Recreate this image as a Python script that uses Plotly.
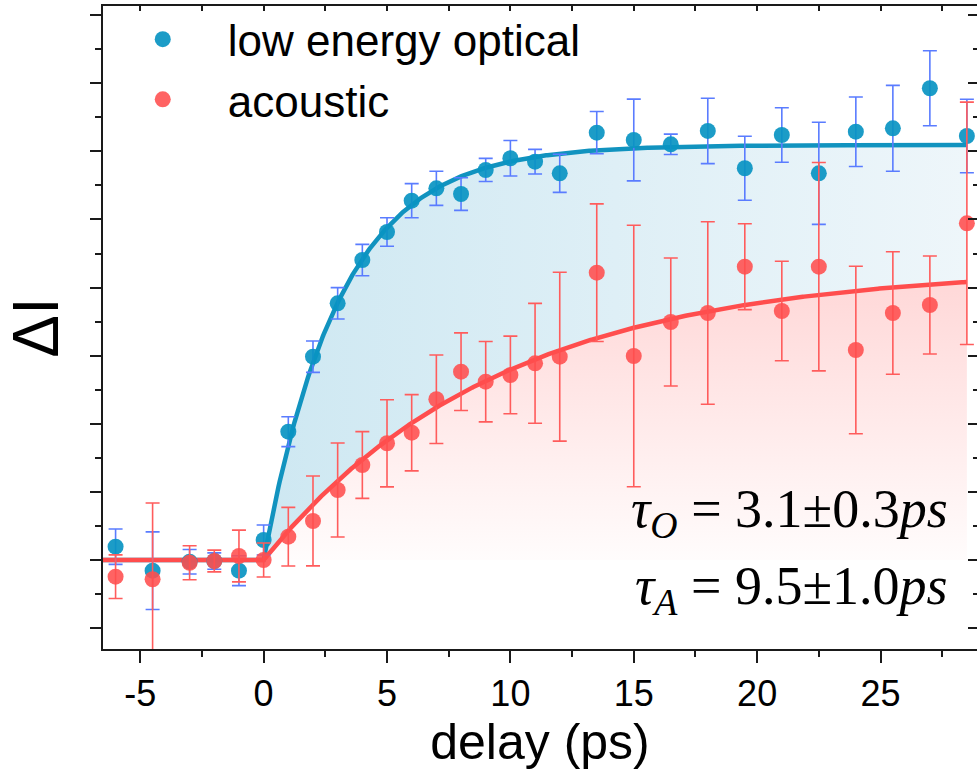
import numpy as np
import plotly.graph_objects as go

# Delay times (ps)
delay = [-6, -4.5, -3, -2, -1, 0, 1, 2, 3, 4, 5, 6, 7, 8, 9, 10, 11, 12,
         13.5, 15, 16.5, 18, 19.5, 21, 22.5, 24, 25.5, 27, 28.5]

# Low energy optical mode intensity change (arb. units) and errors
optical = [0.195, -0.157, -0.025, -0.015, -0.157, 0.294, 1.884, 2.985, 3.769,
           4.405, 4.816, 5.276, 5.458, 5.374, 5.727, 5.899, 5.849, 5.678,
           6.275, 6.167, 6.104, 6.300, 5.752, 6.241, 5.678, 6.289, 6.339,
           6.927, 6.226]
optical_err = [0.26, 0.57, 0.18, 0.12, 0.22, 0.22, 0.22, 0.23, 0.23, 0.23,
               0.21, 0.25, 0.25, 0.24, 0.17, 0.26, 0.18, 0.28, 0.31, 0.60,
               0.15, 0.48, 0.47, 0.40, 0.75, 0.51, 0.63, 0.55, 0.54]

# Acoustic mode intensity change (arb. units) and errors
acoustic = [-0.245, -0.283, -0.040, -0.015, 0.059, 0.0, 0.342, 0.573, 1.028,
            1.395, 1.714, 1.869, 2.360, 2.765, 2.618, 2.717, 2.888, 2.985,
            4.219, 2.996, 3.495, 3.627, 4.307, 3.656, 4.307, 3.084, 3.627,
            3.744, 4.944]
acoustic_err = [0.32, 1.12, 0.25, 0.16, 0.38, 0.25, 0.43, 0.66, 0.69, 0.49,
                0.64, 0.56, 0.65, 0.57, 0.59, 0.57, 0.88, 1.24, 1.01, 1.92,
                0.94, 1.34, 0.63, 0.73, 1.53, 1.23, 0.90, 0.72, 1.78]

# Single-exponential rise fits: A * (1 - exp(-t / tau)) for t > 0
TAU_O, AMP_O = 3.1, 6.094
TAU_A, AMP_A = 9.5, 4.296

x_ticks = [-5, 0, 5, 10, 15, 20, 25]
x_tick_labels = ["-5", "0", "5", "10", "15", "20", "25"]

t_fit = np.linspace(-6.9, 28.5, 709)
fit_o = np.where(t_fit > 0, AMP_O * (1 - np.exp(-np.clip(t_fit, 0, None) / TAU_O)), 0.0)
fit_a = np.where(t_fit > 0, AMP_A * (1 - np.exp(-np.clip(t_fit, 0, None) / TAU_A)), 0.0)

BLUE = "#0994c2"
BLUE_ERR = "#5a7cff"
RED = "#ff4d4d"
RED_ERR = "#ff5c5c"

fig = go.Figure()

# Shaded areas under the fits
fig.add_trace(go.Scatter(
    x=t_fit, y=fit_a, mode="lines", line=dict(width=0), fill="tozeroy",
    fillgradient=dict(type="vertical", start=0, stop=AMP_A,
                      colorscale=[[0, "rgba(255,252,252,1)"], [1, "rgba(255,214,214,1)"]]),
    showlegend=False, hoverinfo="skip"))
fig.add_trace(go.Scatter(
    x=t_fit, y=fit_o, mode="lines", line=dict(width=0), fill="tonexty",
    fillgradient=dict(type="horizontal", start=0, stop=28.5,
                      colorscale=[[0, "rgba(206,232,242,1)"], [1, "rgba(238,246,250,1)"]]),
    showlegend=False, hoverinfo="skip"))

# Fit curves
fig.add_trace(go.Scatter(x=t_fit, y=fit_o, mode="lines",
                         line=dict(color="#1193bf", width=4.5),
                         showlegend=False, hoverinfo="skip"))
fig.add_trace(go.Scatter(x=t_fit, y=fit_a, mode="lines",
                         line=dict(color=RED, width=4.5),
                         showlegend=False, hoverinfo="skip"))

# Measured points
fig.add_trace(go.Scatter(
    x=delay, y=optical, mode="markers", name="low energy optical",
    marker=dict(color=BLUE, size=16, opacity=0.92),
    error_y=dict(type="data", array=optical_err, color=BLUE_ERR,
                 thickness=1.6, width=7)))
fig.add_trace(go.Scatter(
    x=delay, y=acoustic, mode="markers", name="acoustic",
    marker=dict(color=RED, size=16, opacity=0.88),
    error_y=dict(type="data", array=acoustic_err, color=RED_ERR,
                 thickness=1.6, width=7)))

# Invisible trace to anchor the mirrored top/right axes
fig.add_trace(go.Scatter(x=[0], y=[0], xaxis="x2", yaxis="y2", mode="markers",
                         marker=dict(opacity=0), showlegend=False, hoverinfo="skip"))

X_RANGE = [-6.51, 28.91]
Y_RANGE = [-1.307, 8.135]
AXIS_COLOR = "#1a1a1a"

fig.update_layout(
    width=977, height=780,
    margin=dict(l=103, r=0, t=6, b=131),
    paper_bgcolor="white", plot_bgcolor="white",
    font=dict(family="Liberation Sans, Arial, sans-serif", color="black"),
    xaxis=dict(
        range=X_RANGE, tickvals=x_ticks, ticktext=x_tick_labels,
        ticks="outside", ticklen=12,
        tickwidth=1.5, tickcolor=AXIS_COLOR,
        minor=dict(dtick=2.5, tick0=0, ticks="outside", ticklen=6,
                   tickwidth=1.5, tickcolor=AXIS_COLOR),
        showline=True, linecolor=AXIS_COLOR, linewidth=1.5,
        showgrid=False, zeroline=False,
        tickfont=dict(size=36),
        title=dict(text="delay (ps)", font=dict(size=50), standoff=6),
    ),
    yaxis=dict(
        range=Y_RANGE, dtick=1, tick0=0, ticks="outside", ticklen=11,
        tickwidth=1.5, tickcolor=AXIS_COLOR, showticklabels=False,
        minor=dict(dtick=0.5, tick0=0, ticks="outside", ticklen=6,
                   tickwidth=1.5, tickcolor=AXIS_COLOR),
        showline=True, linecolor=AXIS_COLOR, linewidth=1.5,
        showgrid=False, zeroline=False,
        title=dict(text="ΔI", font=dict(size=64), standoff=32),
    ),
    xaxis2=dict(
        overlaying="x", side="top", anchor="y", range=X_RANGE,
        dtick=2.5, tick0=0, ticks="inside", ticklen=5, tickwidth=1.5,
        tickcolor=AXIS_COLOR, showticklabels=False,
        showline=True, linecolor=AXIS_COLOR, linewidth=1.5,
        showgrid=False, zeroline=False,
    ),
    yaxis2=dict(
        overlaying="y", side="right", anchor="x", range=Y_RANGE,
        dtick=1, tick0=0, ticks="inside", ticklen=9, tickwidth=1.5,
        tickcolor=AXIS_COLOR, showticklabels=False,
        minor=dict(dtick=0.5, tick0=0, ticks="inside", ticklen=4,
                   tickwidth=1.5, tickcolor=AXIS_COLOR),
        showline=False, showgrid=False, zeroline=False,
    ),
    legend=dict(x=-0.006, y=1.003, xanchor="left", yanchor="top",
                bgcolor="rgba(0,0,0,0)", font=dict(size=44),
                itemwidth=120, tracegroupgap=0, traceorder="normal"),
    annotations=[
        dict(xref="paper", yref="paper", x=0.969, y=0.212, xanchor="right",
             yanchor="middle", showarrow=False,
             text="<i>τ</i><sub><i>O</i></sub> = 3.1±0.3<i>ps</i>",
             font=dict(family="Liberation Serif, Times New Roman, serif", size=54)),
        dict(xref="paper", yref="paper", x=0.969, y=0.093, xanchor="right",
             yanchor="middle", showarrow=False,
             text="<i>τ</i><sub><i>A</i></sub> = 9.5±1.0<i>ps</i>",
             font=dict(family="Liberation Serif, Times New Roman, serif", size=54)),
    ],
)

fig.write_html("out.html")
